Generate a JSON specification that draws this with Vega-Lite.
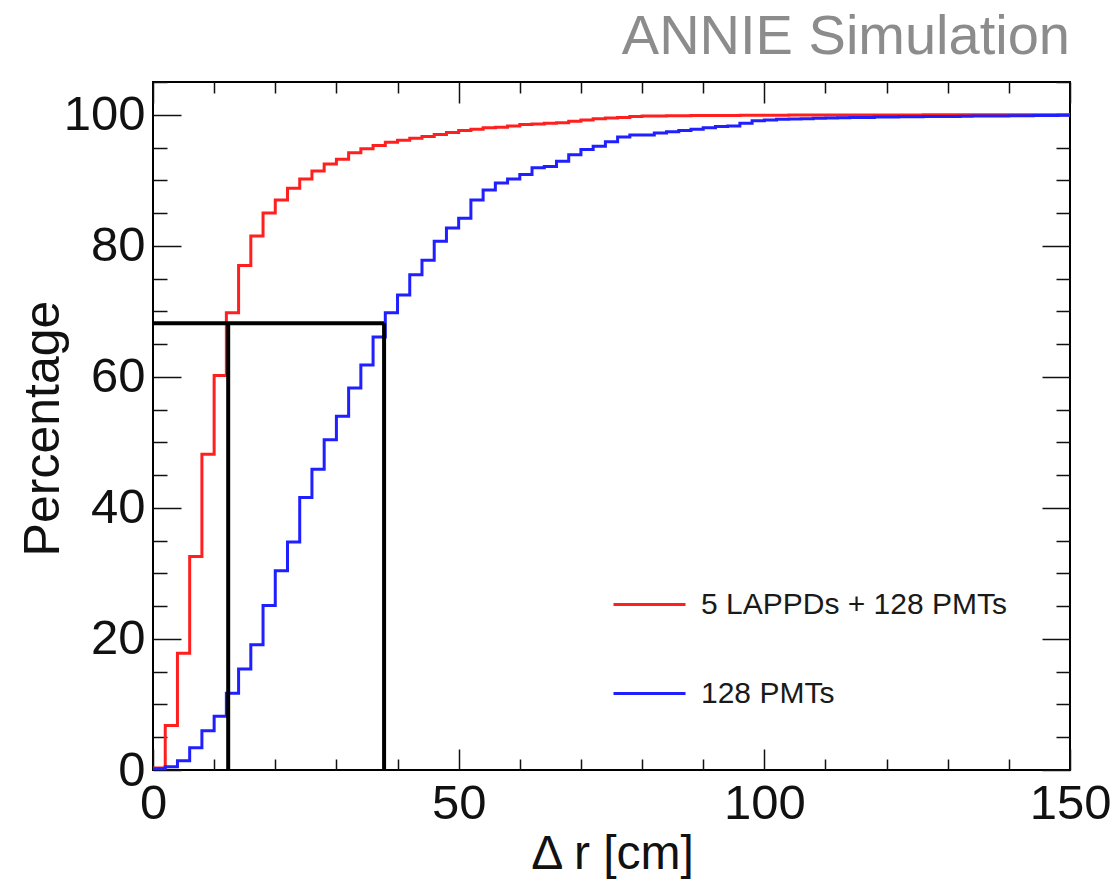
{
  "$schema": "https://vega.github.io/schema/vega-lite/v6.json",
  "width": 917,
  "height": 688,
  "autosize": {"type": "none"},
  "padding": {"left": 153, "top": 82, "right": 45, "bottom": 111},
  "background": "white",
  "config": {
    "font": "Liberation Sans",
    "view": {"stroke": "black", "strokeWidth": 2},
    "axis": {"grid": false, "domain": false, "tickColor": "#111111", "tickWidth": 1.5, "labelColor": "#111111", "titleColor": "#111111", "labelFlush": false, "labelOverlap": false}
  },
  "title": {"text": "ANNIE Simulation", "anchor": "end", "frame": "group", "fontSize": 56, "fontWeight": "normal", "color": "#8c8c8c", "offset": 15},
  "datasets": {
    "curves": [
      {"detector": "5 LAPPDs + 128 PMTs", "r": 0, "pct": 0.3},
      {"detector": "5 LAPPDs + 128 PMTs", "r": 2, "pct": 6.8},
      {"detector": "5 LAPPDs + 128 PMTs", "r": 4, "pct": 17.8},
      {"detector": "5 LAPPDs + 128 PMTs", "r": 6, "pct": 32.6},
      {"detector": "5 LAPPDs + 128 PMTs", "r": 8, "pct": 48.2},
      {"detector": "5 LAPPDs + 128 PMTs", "r": 10, "pct": 60.2},
      {"detector": "5 LAPPDs + 128 PMTs", "r": 12, "pct": 69.8},
      {"detector": "5 LAPPDs + 128 PMTs", "r": 14, "pct": 77.0},
      {"detector": "5 LAPPDs + 128 PMTs", "r": 16, "pct": 81.5},
      {"detector": "5 LAPPDs + 128 PMTs", "r": 18, "pct": 85.0},
      {"detector": "5 LAPPDs + 128 PMTs", "r": 20, "pct": 87.0},
      {"detector": "5 LAPPDs + 128 PMTs", "r": 22, "pct": 88.8},
      {"detector": "5 LAPPDs + 128 PMTs", "r": 24, "pct": 90.2},
      {"detector": "5 LAPPDs + 128 PMTs", "r": 26, "pct": 91.4},
      {"detector": "5 LAPPDs + 128 PMTs", "r": 28, "pct": 92.5},
      {"detector": "5 LAPPDs + 128 PMTs", "r": 30, "pct": 93.2},
      {"detector": "5 LAPPDs + 128 PMTs", "r": 32, "pct": 94.2},
      {"detector": "5 LAPPDs + 128 PMTs", "r": 34, "pct": 94.8},
      {"detector": "5 LAPPDs + 128 PMTs", "r": 36, "pct": 95.3},
      {"detector": "5 LAPPDs + 128 PMTs", "r": 38, "pct": 95.8},
      {"detector": "5 LAPPDs + 128 PMTs", "r": 40, "pct": 96.1},
      {"detector": "5 LAPPDs + 128 PMTs", "r": 42, "pct": 96.4},
      {"detector": "5 LAPPDs + 128 PMTs", "r": 44, "pct": 96.7},
      {"detector": "5 LAPPDs + 128 PMTs", "r": 46, "pct": 97.0},
      {"detector": "5 LAPPDs + 128 PMTs", "r": 48, "pct": 97.3},
      {"detector": "5 LAPPDs + 128 PMTs", "r": 50, "pct": 97.6},
      {"detector": "5 LAPPDs + 128 PMTs", "r": 52, "pct": 97.8},
      {"detector": "5 LAPPDs + 128 PMTs", "r": 54, "pct": 98.0},
      {"detector": "5 LAPPDs + 128 PMTs", "r": 56, "pct": 98.1},
      {"detector": "5 LAPPDs + 128 PMTs", "r": 58, "pct": 98.3},
      {"detector": "5 LAPPDs + 128 PMTs", "r": 60, "pct": 98.5},
      {"detector": "5 LAPPDs + 128 PMTs", "r": 62, "pct": 98.6},
      {"detector": "5 LAPPDs + 128 PMTs", "r": 64, "pct": 98.7},
      {"detector": "5 LAPPDs + 128 PMTs", "r": 66, "pct": 98.8},
      {"detector": "5 LAPPDs + 128 PMTs", "r": 68, "pct": 99.0},
      {"detector": "5 LAPPDs + 128 PMTs", "r": 70, "pct": 99.2},
      {"detector": "5 LAPPDs + 128 PMTs", "r": 72, "pct": 99.4},
      {"detector": "5 LAPPDs + 128 PMTs", "r": 74, "pct": 99.5},
      {"detector": "5 LAPPDs + 128 PMTs", "r": 76, "pct": 99.6},
      {"detector": "5 LAPPDs + 128 PMTs", "r": 78, "pct": 99.75},
      {"detector": "5 LAPPDs + 128 PMTs", "r": 80, "pct": 99.8},
      {"detector": "5 LAPPDs + 128 PMTs", "r": 82, "pct": 99.8},
      {"detector": "5 LAPPDs + 128 PMTs", "r": 84, "pct": 99.85},
      {"detector": "5 LAPPDs + 128 PMTs", "r": 86, "pct": 99.85},
      {"detector": "5 LAPPDs + 128 PMTs", "r": 88, "pct": 99.9},
      {"detector": "5 LAPPDs + 128 PMTs", "r": 90, "pct": 99.9},
      {"detector": "5 LAPPDs + 128 PMTs", "r": 92, "pct": 99.9},
      {"detector": "5 LAPPDs + 128 PMTs", "r": 94, "pct": 99.9},
      {"detector": "5 LAPPDs + 128 PMTs", "r": 96, "pct": 99.92},
      {"detector": "5 LAPPDs + 128 PMTs", "r": 98, "pct": 99.92},
      {"detector": "5 LAPPDs + 128 PMTs", "r": 100, "pct": 99.94},
      {"detector": "5 LAPPDs + 128 PMTs", "r": 102, "pct": 99.94},
      {"detector": "5 LAPPDs + 128 PMTs", "r": 104, "pct": 99.95},
      {"detector": "5 LAPPDs + 128 PMTs", "r": 106, "pct": 99.95},
      {"detector": "5 LAPPDs + 128 PMTs", "r": 108, "pct": 99.96},
      {"detector": "5 LAPPDs + 128 PMTs", "r": 110, "pct": 99.96},
      {"detector": "5 LAPPDs + 128 PMTs", "r": 112, "pct": 99.97},
      {"detector": "5 LAPPDs + 128 PMTs", "r": 114, "pct": 99.97},
      {"detector": "5 LAPPDs + 128 PMTs", "r": 116, "pct": 99.97},
      {"detector": "5 LAPPDs + 128 PMTs", "r": 118, "pct": 99.98},
      {"detector": "5 LAPPDs + 128 PMTs", "r": 120, "pct": 99.98},
      {"detector": "5 LAPPDs + 128 PMTs", "r": 122, "pct": 99.98},
      {"detector": "5 LAPPDs + 128 PMTs", "r": 124, "pct": 99.98},
      {"detector": "5 LAPPDs + 128 PMTs", "r": 126, "pct": 99.99},
      {"detector": "5 LAPPDs + 128 PMTs", "r": 128, "pct": 99.99},
      {"detector": "5 LAPPDs + 128 PMTs", "r": 130, "pct": 99.99},
      {"detector": "5 LAPPDs + 128 PMTs", "r": 132, "pct": 99.99},
      {"detector": "5 LAPPDs + 128 PMTs", "r": 134, "pct": 99.99},
      {"detector": "5 LAPPDs + 128 PMTs", "r": 136, "pct": 99.99},
      {"detector": "5 LAPPDs + 128 PMTs", "r": 138, "pct": 100},
      {"detector": "5 LAPPDs + 128 PMTs", "r": 140, "pct": 100},
      {"detector": "5 LAPPDs + 128 PMTs", "r": 142, "pct": 100},
      {"detector": "5 LAPPDs + 128 PMTs", "r": 144, "pct": 100},
      {"detector": "5 LAPPDs + 128 PMTs", "r": 146, "pct": 100},
      {"detector": "5 LAPPDs + 128 PMTs", "r": 148, "pct": 100},
      {"detector": "5 LAPPDs + 128 PMTs", "r": 150, "pct": 100},
      {"detector": "128 PMTs", "r": 0, "pct": 0.2},
      {"detector": "128 PMTs", "r": 2, "pct": 0.5},
      {"detector": "128 PMTs", "r": 4, "pct": 1.4},
      {"detector": "128 PMTs", "r": 6, "pct": 3.4},
      {"detector": "128 PMTs", "r": 8, "pct": 6.0},
      {"detector": "128 PMTs", "r": 10, "pct": 8.2},
      {"detector": "128 PMTs", "r": 12, "pct": 11.7},
      {"detector": "128 PMTs", "r": 14, "pct": 15.4},
      {"detector": "128 PMTs", "r": 16, "pct": 19.1},
      {"detector": "128 PMTs", "r": 18, "pct": 25.1},
      {"detector": "128 PMTs", "r": 20, "pct": 30.4},
      {"detector": "128 PMTs", "r": 22, "pct": 34.8},
      {"detector": "128 PMTs", "r": 24, "pct": 41.6},
      {"detector": "128 PMTs", "r": 26, "pct": 45.9},
      {"detector": "128 PMTs", "r": 28, "pct": 50.4},
      {"detector": "128 PMTs", "r": 30, "pct": 54.0},
      {"detector": "128 PMTs", "r": 32, "pct": 58.3},
      {"detector": "128 PMTs", "r": 34, "pct": 61.8},
      {"detector": "128 PMTs", "r": 36, "pct": 66.1},
      {"detector": "128 PMTs", "r": 38, "pct": 69.8},
      {"detector": "128 PMTs", "r": 40, "pct": 72.5},
      {"detector": "128 PMTs", "r": 42, "pct": 75.6},
      {"detector": "128 PMTs", "r": 44, "pct": 77.8},
      {"detector": "128 PMTs", "r": 46, "pct": 80.7},
      {"detector": "128 PMTs", "r": 48, "pct": 82.7},
      {"detector": "128 PMTs", "r": 50, "pct": 84.2},
      {"detector": "128 PMTs", "r": 52, "pct": 87.0},
      {"detector": "128 PMTs", "r": 54, "pct": 88.5},
      {"detector": "128 PMTs", "r": 56, "pct": 89.6},
      {"detector": "128 PMTs", "r": 58, "pct": 90.2},
      {"detector": "128 PMTs", "r": 60, "pct": 90.9},
      {"detector": "128 PMTs", "r": 62, "pct": 91.9},
      {"detector": "128 PMTs", "r": 64, "pct": 92.1},
      {"detector": "128 PMTs", "r": 66, "pct": 92.9},
      {"detector": "128 PMTs", "r": 68, "pct": 93.9},
      {"detector": "128 PMTs", "r": 70, "pct": 94.7},
      {"detector": "128 PMTs", "r": 72, "pct": 95.2},
      {"detector": "128 PMTs", "r": 74, "pct": 95.9},
      {"detector": "128 PMTs", "r": 76, "pct": 96.6},
      {"detector": "128 PMTs", "r": 78, "pct": 96.9},
      {"detector": "128 PMTs", "r": 80, "pct": 96.9},
      {"detector": "128 PMTs", "r": 82, "pct": 97.2},
      {"detector": "128 PMTs", "r": 84, "pct": 97.4},
      {"detector": "128 PMTs", "r": 86, "pct": 97.6},
      {"detector": "128 PMTs", "r": 88, "pct": 97.8},
      {"detector": "128 PMTs", "r": 90, "pct": 98.0},
      {"detector": "128 PMTs", "r": 92, "pct": 98.2},
      {"detector": "128 PMTs", "r": 94, "pct": 98.3},
      {"detector": "128 PMTs", "r": 96, "pct": 98.7},
      {"detector": "128 PMTs", "r": 98, "pct": 99.1},
      {"detector": "128 PMTs", "r": 100, "pct": 99.2},
      {"detector": "128 PMTs", "r": 102, "pct": 99.3},
      {"detector": "128 PMTs", "r": 104, "pct": 99.35},
      {"detector": "128 PMTs", "r": 106, "pct": 99.4},
      {"detector": "128 PMTs", "r": 108, "pct": 99.45},
      {"detector": "128 PMTs", "r": 110, "pct": 99.5},
      {"detector": "128 PMTs", "r": 112, "pct": 99.55},
      {"detector": "128 PMTs", "r": 114, "pct": 99.6},
      {"detector": "128 PMTs", "r": 116, "pct": 99.6},
      {"detector": "128 PMTs", "r": 118, "pct": 99.65},
      {"detector": "128 PMTs", "r": 120, "pct": 99.65},
      {"detector": "128 PMTs", "r": 122, "pct": 99.7},
      {"detector": "128 PMTs", "r": 124, "pct": 99.7},
      {"detector": "128 PMTs", "r": 126, "pct": 99.72},
      {"detector": "128 PMTs", "r": 128, "pct": 99.75},
      {"detector": "128 PMTs", "r": 130, "pct": 99.75},
      {"detector": "128 PMTs", "r": 132, "pct": 99.78},
      {"detector": "128 PMTs", "r": 134, "pct": 99.8},
      {"detector": "128 PMTs", "r": 136, "pct": 99.8},
      {"detector": "128 PMTs", "r": 138, "pct": 99.82},
      {"detector": "128 PMTs", "r": 140, "pct": 99.85},
      {"detector": "128 PMTs", "r": 142, "pct": 99.85},
      {"detector": "128 PMTs", "r": 144, "pct": 99.88},
      {"detector": "128 PMTs", "r": 146, "pct": 99.9},
      {"detector": "128 PMTs", "r": 148, "pct": 99.92},
      {"detector": "128 PMTs", "r": 150, "pct": 99.92}
    ],
    "box": [
      {"x": 0, "x2": 37.8, "y": 68.2, "y2": 68.2},
      {"x": 12.3, "x2": 12.3, "y": 0, "y2": 68.2},
      {"x": 37.8, "x2": 37.8, "y": 0, "y2": 68.2}
    ]
  },
  "layer": [
    {
      "data": {"name": "curves"},
      "mark": {"type": "line", "interpolate": "step-after", "strokeWidth": 3},
      "encoding": {
        "x": {"field": "r", "type": "quantitative", "scale": {"domain": [0, 150], "nice": false},
          "axis": {"orient": "bottom", "values": [0, 50, 100, 150], "tickSize": -21, "labelPadding": 30, "labelFontSize": 49,
            "title": "Δ r [cm]", "titleFontSize": 48, "titleFontWeight": "normal", "titleX": 459, "titleY": 98, "titleAlign": "center", "titleBaseline": "alphabetic"}},
        "y": {"field": "pct", "type": "quantitative", "scale": {"domain": [0, 105], "nice": false},
          "axis": {"orient": "left", "values": [0, 20, 40, 60, 80, 100], "tickSize": -28, "labelPadding": 36, "labelFontSize": 49,
            "title": "Percentage", "titleFontSize": 50, "titleFontWeight": "normal", "titleX": -95, "titleY": 346, "titleAngle": -90, "titleAlign": "center", "titleBaseline": "alphabetic"}},
        "color": {"field": "detector", "type": "nominal",
          "scale": {"domain": ["5 LAPPDs + 128 PMTs", "128 PMTs"], "range": ["#ff1f1f", "#1f1fff"]},
          "legend": {"orient": "none", "legendX": 459, "legendY": 485, "title": null, "symbolType": "stroke", "symbolSize": 5184, "symbolStrokeWidth": 3, "labelFontSize": 30, "labelLimit": 0, "labelOffset": 14, "labelColor": "#1a1a1a", "rowPadding": 36}}
      }
    },
    {
      "data": {"name": "box"},
      "mark": {"type": "rule", "color": "black", "strokeWidth": 4},
      "encoding": {
        "x": {"field": "x", "type": "quantitative",
          "axis": {"orient": "bottom", "values": [10, 20, 30, 40, 60, 70, 80, 90, 110, 120, 130, 140], "tickSize": -11, "labels": false, "title": null}},
        "x2": {"field": "x2"},
        "y": {"field": "y", "type": "quantitative",
          "axis": {"orient": "left", "values": [5, 10, 15, 25, 30, 35, 45, 50, 55, 65, 70, 75, 85, 90, 95, 105], "tickSize": -14, "labels": false, "title": null}},
        "y2": {"field": "y2"}
      }
    },
    {
      "data": {"name": "box"},
      "mark": {"type": "rule", "strokeOpacity": 0},
      "encoding": {
        "x": {"field": "x", "type": "quantitative",
          "axis": {"orient": "top", "values": [0, 50, 100, 150], "tickSize": -21, "labels": false, "title": null}},
        "y": {"field": "y", "type": "quantitative",
          "axis": {"orient": "right", "values": [0, 20, 40, 60, 80, 100], "tickSize": -28, "labels": false, "title": null}}
      }
    },
    {
      "data": {"name": "box"},
      "mark": {"type": "rule", "strokeOpacity": 0},
      "encoding": {
        "x": {"field": "x", "type": "quantitative",
          "axis": {"orient": "top", "values": [10, 20, 30, 40, 60, 70, 80, 90, 110, 120, 130, 140], "tickSize": -11, "labels": false, "title": null}},
        "y": {"field": "y", "type": "quantitative",
          "axis": {"orient": "right", "values": [5, 10, 15, 25, 30, 35, 45, 50, 55, 65, 70, 75, 85, 90, 95, 105], "tickSize": -14, "labels": false, "title": null}}
      }
    }
  ],
  "resolve": {"axis": {"x": "independent", "y": "independent"}}
}
